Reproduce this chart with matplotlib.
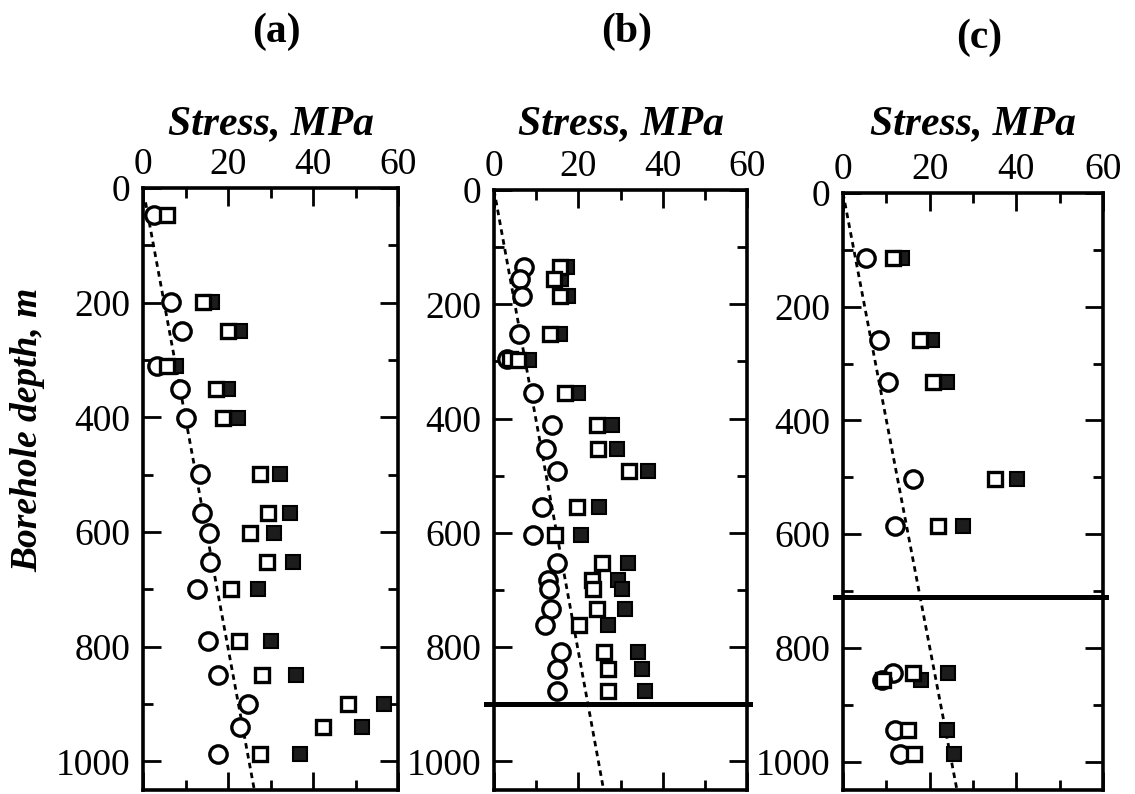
import numpy as np
import matplotlib
matplotlib.use("Agg")
import matplotlib.pyplot as plt
from matplotlib.ticker import MultipleLocator

plt.rcParams["font.family"] = ["Liberation Serif", "DejaVu Serif"]

nan = np.nan

# ---- panel (a) ----
depth_a = [47, 199, 249, 310, 350, 401, 498, 566, 601, 652, 700, 790, 849, 900, 940, 988]
circle_a = [2.6, 6.6, 9.1, 3.2, 8.7, 10.1, 13.4, 13.8, 15.5, 15.8, 12.6, 15.2, 17.7, 24.8, 22.8, 17.7]
open_a = [5.6, 14.2, 20.1, 5.6, 17.2, 18.9, 27.5, 29.5, 25.2, 29.1, 20.6, 22.6, 27.9, 48.3, 42.4, 27.5]
solid_a = [nan, 16.2, 22.8, 7.8, 20.1, 22.3, 32.2, 34.7, 30.9, 35.2, 27.1, 30.1, 35.9, 56.8, 51.5, 36.9]
trend_depth_a = [25, 1050]
trend_stress_a = [0.6, 26.2]

# ---- panel (b) ----
depth_b = [135, 155, 186, 252, 296, 298, 355, 412, 453, 492, 555, 604, 652, 682, 699,
           733, 761, 809, 838, 877]
circle_b = [7.2, 6.2, 6.6, 6.0, 3.0, nan, 9.3, 13.7, 12.3, 14.9, 11.5, 9.3, 14.9, 12.9, 13.1,
            13.5, 12.1, 15.9, 14.9, 14.9]
open_b = [15.6, 14.2, 15.6, 13.3, 3.8, 5.8, 16.8, 24.4, 24.7, 32.0, 19.6, 14.5, 25.5, 23.3, 23.5,
          24.4, 20.2, 26.2, 27.0, 27.0]
solid_b = [17.4, 16.0, 17.6, 15.6, nan, 8.2, 20.0, 27.9, 29.1, 36.6, 25.0, 20.6, 31.8, 29.5, 30.3,
           31.1, 27.1, 34.1, 35.0, 35.7]
trend_depth_b = [0, 1050]
trend_stress_b = [0.0, 26.0]
boundary_b = 900

# ---- panel (c) ----
depth_c = [114, 259, 332, 503, 585, 845, 856, 944, 986]
circle_c = [5.3, 8.4, 10.3, 16.2, 12.0, 11.6, 8.9, 12.0, 13.2]
open_c = [11.6, 17.8, 20.8, 35.1, 22.0, 16.2, 9.3, 14.9, 16.4]
solid_c = [13.5, 20.5, 23.9, 40.1, 27.6, 24.3, 18.0, 23.9, 25.7]
trend_depth_c = [0, 1050]
trend_stress_c = [0.0, 26.3]
boundary_c = 710

panel_titles = ["(a)", "(b)", "(c)"]
x_ticks = [0, 20, 40, 60]
y_ticks = [0, 200, 400, 600, 800, 1000]

fig = plt.figure(figsize=(11.35, 7.94), dpi=100)
W, H = 1135, 794

# axes boxes in pixels: left, top, right, bottom
boxes = [(143, 188, 398, 790), (494, 190, 747, 790), (843, 193, 1103, 790)]
title_y = [32, 32, 38]

panels = [
    (depth_a, circle_a, open_a, solid_a, trend_depth_a, trend_stress_a, None),
    (depth_b, circle_b, open_b, solid_b, trend_depth_b, trend_stress_b, boundary_b),
    (depth_c, circle_c, open_c, solid_c, trend_depth_c, trend_stress_c, boundary_c),
]

for i, ((l, t, r, b), data) in enumerate(zip(boxes, panels)):
    depth, circ, opn, sol, tdep, tstr, bound = data
    ax = fig.add_axes([l / W, 1 - b / H, (r - l) / W, (b - t) / H])
    ax.set_xlim(0, 60)
    ax.set_ylim(1050, 0)

    ax.plot(tstr, tdep, color="black", lw=2.0, ls=(0, (2.0, 1.6)), zorder=2)
    if bound is not None:
        ax.plot([-0.03, 1.01], [bound, bound], color="black", lw=3.6, zorder=6,
                transform=ax.get_yaxis_transform(), clip_on=False)

    ax.plot(circ, depth, "o", ms=12.5, mfc="white", mec="black", mew=2.4, ls="none", zorder=3)
    ax.plot(sol, depth, "s", ms=9.5, mfc="#1c1c1c", mec="black", mew=1.5, ls="none", zorder=4)
    ax.plot(opn, depth, "s", ms=9.5, mfc="white", mec="black", mew=2.4, ls="none", zorder=5)

    ax.xaxis.set_ticks_position("both")
    ax.xaxis.set_label_position("top")
    ax.set_xticks(x_ticks)
    ax.set_yticks(y_ticks)
    ax.xaxis.set_minor_locator(MultipleLocator(10))
    ax.yaxis.set_minor_locator(MultipleLocator(100))
    ax.tick_params(axis="both", which="both", direction="in", top=True, bottom=True,
                   left=True, right=True, labeltop=True, labelbottom=False,
                   labelsize=27, width=2.0)
    ax.tick_params(axis="x", which="major", length=13, pad=4)
    ax.tick_params(axis="y", which="major", length=13, pad=9)
    ax.tick_params(which="minor", length=7)
    for sp in ax.spines.values():
        sp.set_linewidth(2.6)

    ax.set_xlabel("Stress, MPa", fontsize=30, fontweight="bold", fontstyle="italic",
                  labelpad=10 + (t - 188) * 0.72)
    cx = (l + r) / 2
    fig.text((cx + 6) / W, 1 - title_y[i] / H, panel_titles[i], ha="center", va="center",
             fontsize=30, fontweight="bold")

fig.text(28 / W, 1 - 430 / H, "Borehole depth, m", rotation=90, ha="center", va="center",
         fontsize=27, fontweight="bold", fontstyle="italic")

fig.savefig("out.png", dpi=100)
